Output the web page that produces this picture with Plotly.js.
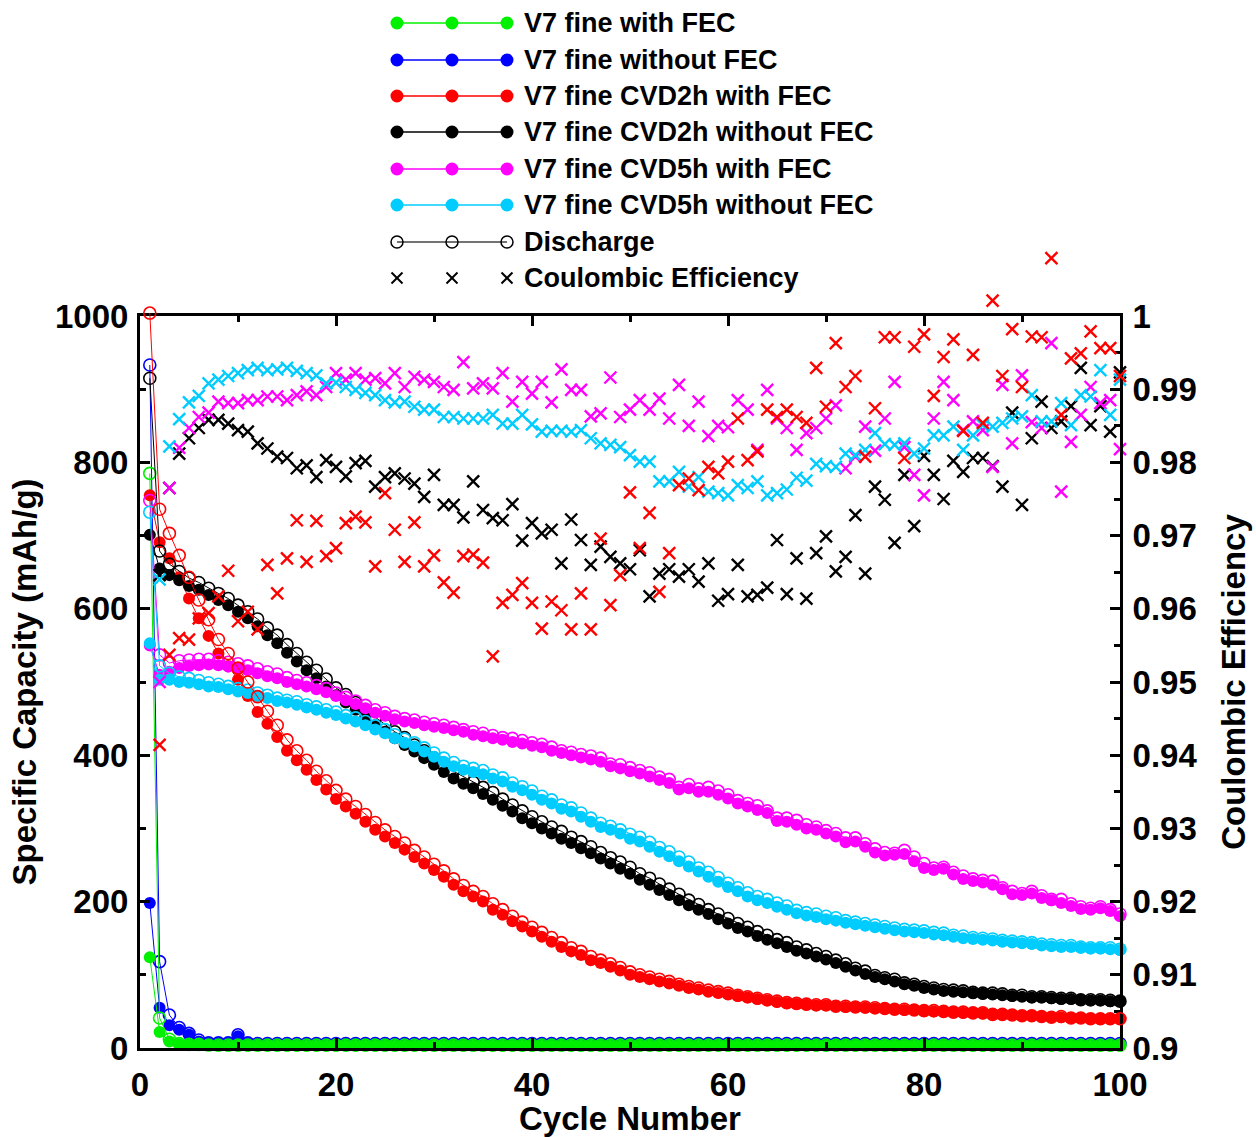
<!DOCTYPE html>
<html>
<head>
<meta charset="utf-8">
<script src="https://cdn.plot.ly/plotly-3.0.1.min.js"></script>
<style>
html,body{margin:0;padding:0;background:#fff;}
#chart{width:1256px;height:1137px;}
</style>
</head>
<body>
<div id="chart"></div>
<script>
// ---------------- DATA ----------------
const cycles = [1,2,3,4,5,6,7,8,9,10,11,12,13,14,15,16,17,18,19,20,21,22,23,24,25,26,27,28,29,30,31,32,33,34,35,36,37,38,39,40,41,42,43,44,45,46,47,48,49,50,51,52,53,54,55,56,57,58,59,60,61,62,63,64,65,66,67,68,69,70,71,72,73,74,75,76,77,78,79,80,81,82,83,84,85,86,87,88,89,90,91,92,93,94,95,96,97,98,99,100];

const seriesNames = ["V7 fine with FEC","V7 fine without FEC","V7 fine CVD2h with FEC","V7 fine CVD2h without FEC","V7 fine CVD5h with FEC","V7 fine CVD5h without FEC"];
const seriesColors = ["#00F000","#0000FF","#FF0000","#000000","#FF00FF","#00CCFF"];

// charge (filled) capacities, mAh/g
const greenCharge = [124,22,9,5,4,4,4,3,3,3,3,3,3,3,3,3,3,3,3,3,3,3,3,3,3,3,3,3,3,3,3,3,3,3,3,3,3,3,3,3,3,3,3,3,3,3,3,3,3,3,3,3,3,3,3,3,3,3,3,3,3,3,3,3,3,3,3,3,3,3,3,3,3,3,3,3,3,3,3,3,3,3,3,3,3,3,3,3,3,3,3,3,3,3,3,3,3,3,3,3];
const blueCharge = [198,55,31,25,18,9,6,6,6,16,6,6,5,5,5,5,5,5,5,5,5,5,5,5,5,5,5,5,5,5,5,5,5,5,5,5,5,5,5,5,5,5,5,5,5,5,5,5,5,5,5,5,5,5,5,5,5,5,5,5,5,5,5,5,5,5,5,5,5,5,5,5,5,5,5,5,5,5,5,5,5,5,5,5,5,5,5,5,5,5,5,5,5,5,5,5,5,5,5,5];
const redCharge = [755,691,669,643,614,587,563,539,522,503,481,459,443,425,406,393,380,366,353,340,330,320,309,298,289,280,271,261,252,243,234,223,214,207,200,189,182,173,166,159,152,145,138,132,127,120,116,111,106,100,97,94,91,88,85,82,80,77,75,73,71,69,67,65,63,61,60,59,58,58,57,56,56,55,54,54,53,52,52,51,50,50,49,48,48,47,46,46,45,44,44,43,42,42,41,41,40,40,40,40];
const blackCharge = [701,655,646,639,631,626,619,612,605,596,587,576,564,553,540,528,516,505,494,482,472,462,453,441,432,423,414,405,396,387,377,368,361,355,347,339,331,323,314,307,300,293,286,280,273,266,259,252,245,238,230,223,216,209,202,195,189,183,176,170,164,159,153,148,143,138,133,129,125,121,116,111,106,101,97,94,91,87,85,82,80,78,77,76,75,74,73,72,71,70,69,69,68,67,67,66,65,65,64,64];
const magentaCharge = [550,510,514,519,522,523,524,523,521,519,516,512,508,505,500,497,494,490,486,481,475,470,464,458,454,449,446,444,441,439,437,434,432,428,426,423,421,418,416,413,411,406,403,400,397,394,391,385,382,378,375,371,366,362,353,355,350,350,346,341,334,330,325,321,310,309,305,300,298,293,289,281,282,275,267,263,264,265,255,246,243,245,237,231,228,226,223,217,210,209,211,205,202,198,194,190,189,191,187,180];
const cyanCharge = [553,503,503,500,499,497,494,493,490,487,485,481,478,474,472,469,465,462,458,455,450,446,441,435,430,423,417,412,405,398,391,385,380,377,374,368,364,357,352,346,339,334,327,323,316,309,302,298,293,286,282,275,268,262,255,248,241,234,227,220,214,207,202,198,193,189,184,181,179,176,174,171,169,167,165,163,161,159,158,157,155,154,152,150,149,148,147,145,144,143,142,140,139,138,138,137,136,136,135,134];

// discharge (open) capacities, mAh/g
const greenDischarge = [785,41,12,6,5,5,4,4,4,4,4,4,4,4,4,4,4,4,4,4,4,4,4,4,4,4,4,4,4,4,4,4,4,4,4,4,4,4,4,4,4,4,4,4,4,4,4,4,4,4,4,4,4,4,4,4,4,4,4,4,4,4,4,4,4,4,4,4,4,4,4,4,4,4,4,4,4,4,4,4,4,4,4,4,4,4,4,4,4,4,4,4,4,4,4,4,4,4,4,4];
const blueDischarge = [933,118,45,28,20,11,7,7,7,18,7,6,6,6,6,6,6,6,6,6,6,6,6,6,6,6,6,6,6,6,6,6,6,6,6,6,6,6,6,6,6,6,6,6,6,6,6,6,6,6,6,6,6,6,6,6,6,6,6,6,6,6,6,6,6,6,6,6,6,6,6,6,6,6,6,6,6,6,6,6,6,6,6,6,6,6,6,6,6,6,6,6,6,6,6,6,6,6,6,6];
const redDischarge = [1004,736,703,673,643,612,585,558,539,519,500,480,460,441,421,406,393,378,365,352,340,330,319,308,298,289,280,270,261,251,242,231,222,214,207,197,189,180,172,165,158,151,144,137,132,125,120,115,110,104,100,97,94,91,87,84,82,79,77,75,72,70,68,66,64,62,61,60,59,59,57,57,56,56,55,54,53,53,52,51,51,50,49,49,48,48,46,46,45,44,44,43,42,43,41,41,40,40,40,40];
const blackDischarge = [915,679,661,651,642,636,628,621,614,605,596,586,574,564,551,539,527,516,504,492,483,472,462,452,442,432,424,414,406,396,387,378,371,363,356,349,340,332,324,316,309,302,296,288,282,275,267,260,254,247,238,232,224,217,210,202,196,189,183,177,170,165,159,154,148,144,138,134,129,125,120,115,109,105,99,96,94,89,87,84,82,80,79,78,76,75,75,74,72,72,70,70,69,68,68,66,66,66,65,64];
const magentaDischarge = [748,537,526,529,530,531,531,529,527,525,522,518,514,511,506,502,499,495,491,485,479,474,468,462,458,453,450,448,445,443,441,438,435,432,430,427,424,423,420,417,415,411,406,404,401,399,396,388,387,383,379,376,370,367,356,360,354,356,351,346,338,334,331,324,314,314,311,305,302,297,293,287,287,279,272,267,266,270,261,252,246,247,240,235,231,229,228,219,214,211,214,208,203,203,197,193,191,193,189,183];
const cyanDischarge = [732,522,512,507,505,502,499,497,494,491,489,485,482,478,475,473,469,466,462,459,454,451,446,440,435,428,422,417,410,403,396,390,385,382,379,373,369,362,357,351,344,339,332,328,321,314,307,303,298,292,288,281,274,268,261,254,246,240,233,225,219,212,207,203,198,194,188,185,183,180,178,174,172,170,168,166,164,162,161,160,158,157,154,153,151,150,149,147,146,145,144,142,141,140,140,138,137,137,137,135];

// Coulombic efficiency (right axis)
const redCE = [null,0.9414,0.9537,0.956,0.9558,0.9587,0.9594,0.9617,0.9652,0.9583,0.9596,0.9572,0.966,0.9621,0.9669,0.9721,0.9664,0.972,0.9672,0.9683,0.9717,0.9726,0.9718,0.9658,0.9758,0.9708,0.9664,0.9718,0.9658,0.9673,0.9636,0.9622,0.9672,0.9674,0.9663,0.9535,0.9608,0.9619,0.9635,0.9608,0.9573,0.961,0.9598,0.9572,0.9621,0.9572,0.9696,0.9605,0.9646,0.9759,0.9683,0.9731,0.9623,0.9676,0.9769,0.9778,0.9762,0.9794,0.9785,0.9801,0.986,0.9803,0.9815,0.9872,0.9862,0.9872,0.9862,0.9854,0.9929,0.9876,0.9963,0.9903,0.9918,0.9808,0.9874,0.9971,0.9971,0.9806,0.9958,0.9975,0.9891,0.9944,0.9968,0.9843,0.9947,0.9854,1.0021,0.9918,0.9982,0.9903,0.9972,0.9971,1.0079,0.9865,0.9942,0.9949,0.9979,0.9956,0.9956,0.9918];
const blackCE = [null,0.9646,0.9765,0.9812,0.9833,0.9847,0.9858,0.9858,0.9853,0.9844,0.9842,0.9826,0.9819,0.9808,0.9806,0.9792,0.9796,0.978,0.9803,0.9794,0.9781,0.9799,0.9802,0.9767,0.978,0.9785,0.9778,0.9771,0.9753,0.9783,0.9742,0.9742,0.9725,0.9774,0.9735,0.9724,0.9721,0.9743,0.9693,0.9717,0.9703,0.9708,0.9662,0.9722,0.9694,0.966,0.9685,0.9671,0.9662,0.9654,0.968,0.9617,0.9648,0.9654,0.9644,0.9654,0.9637,0.9662,0.9611,0.962,0.966,0.9617,0.9619,0.9629,0.9694,0.962,0.9669,0.9614,0.9676,0.9699,0.9651,0.9671,0.9728,0.9648,0.9767,0.9749,0.969,0.9783,0.9713,0.9809,0.9783,0.975,0.9802,0.9787,0.9806,0.9806,0.9795,0.9767,0.9868,0.9742,0.9833,0.9883,0.9847,0.9856,0.9877,0.9929,0.9851,0.9877,0.9842,0.9923];
const magentaCE = [null,0.95,0.9765,0.982,0.9847,0.9862,0.9868,0.9883,0.9881,0.9881,0.9885,0.9885,0.989,0.989,0.9885,0.9892,0.9897,0.9892,0.9903,0.9922,0.9913,0.9922,0.9913,0.9915,0.9908,0.9922,0.9903,0.9917,0.9913,0.991,0.9903,0.9899,0.9937,0.9901,0.9908,0.9901,0.9922,0.9883,0.991,0.9894,0.991,0.9882,0.9927,0.9899,0.9899,0.9863,0.9867,0.9916,0.9862,0.9872,0.9885,0.9872,0.9887,0.986,0.9906,0.985,0.9883,0.9836,0.985,0.9848,0.9885,0.9872,0.9817,0.9899,0.986,0.9847,0.9817,0.984,0.9847,0.986,0.9878,0.9792,0.9808,0.9849,0.9816,0.986,0.991,0.9821,0.9783,0.9755,0.986,0.991,0.9885,0.9844,0.9856,0.9844,0.9794,0.9906,0.9826,0.9919,0.9855,0.9847,0.9963,0.976,0.9828,0.9865,0.9903,0.9881,0.9885,0.9818];
const cyanCE = [null,0.964,0.9822,0.9859,0.9882,0.9891,0.9908,0.9913,0.9918,0.9922,0.9926,0.9929,0.9926,0.9927,0.9929,0.9925,0.9922,0.9919,0.9908,0.9909,0.9903,0.9899,0.9895,0.9892,0.9885,0.9882,0.9883,0.9876,0.9872,0.9872,0.9862,0.9862,0.986,0.986,0.986,0.9865,0.9853,0.9853,0.9865,0.9852,0.9842,0.9843,0.9843,0.9842,0.9844,0.9833,0.9826,0.9824,0.9821,0.981,0.9801,0.9801,0.9774,0.9774,0.9787,0.9767,0.978,0.976,0.9758,0.9755,0.9769,0.9765,0.9774,0.9755,0.9758,0.9763,0.9779,0.9775,0.9798,0.9795,0.9794,0.9812,0.981,0.9817,0.984,0.9825,0.9824,0.9826,0.9812,0.9819,0.9837,0.9837,0.9849,0.9817,0.9837,0.9851,0.9849,0.9854,0.986,0.9863,0.9892,0.9856,0.9856,0.9881,0.9851,0.9892,0.989,0.9926,0.9865,0.9913];

const legendLabels = ["V7 fine with FEC","V7 fine without FEC","V7 fine CVD2h with FEC","V7 fine CVD2h without FEC","V7 fine CVD5h with FEC","V7 fine CVD5h without FEC","Discharge","Coulombic Efficiency"];

// axis ranges
const capRange = [0, 1000];
const ceRange = [0.9, 1.0];

// ---------------- GEOMETRY / STYLE ----------------
const FONT = "Liberation Sans, Arial, Helvetica, sans-serif";
const W = 1256, H = 1137;
const L = 140, R = 1120, T = 316, B = 1048;   // visible axis box (px)
const PT = 240;                                // top of the (taller) plotting paper, so out-of-range points still show
const dFrac = (B - T) / (B - PT);              // domain fraction used by the visible axes
// hidden full-height axes that share the same value→pixel scale as the visible ones
const capRangeTall = [capRange[0], capRange[0] + (capRange[1] - capRange[0]) / dFrac];
const ceRangeTall = [ceRange[0], ceRange[0] + (ceRange[1] - ceRange[0]) / dFrac];

const MS = 12;
const traces = [];
function capTrace(arr, i, open, axis) {
  const c = seriesColors[i];
  return {
    x: cycles, y: arr, type: 'scatter', mode: 'lines+markers', yaxis: axis,
    name: seriesNames[i] + (open ? ' discharge' : ''),
    line: {color: c, width: 1},
    marker: open ? {symbol: 'circle-open', size: MS, color: c, line: {width: 1.6, color: c}}
                 : {symbol: 'circle', size: MS, color: c, line: {width: 0}},
    cliponaxis: false, showlegend: false
  };
}
// draw order: blue below green at the bottom, as in the original
const order = [1, 0, 2, 3, 4, 5];
const charges = [greenCharge, blueCharge, redCharge, blackCharge, magentaCharge, cyanCharge];
const discharges = [greenDischarge, blueDischarge, redDischarge, blackDischarge, magentaDischarge, cyanDischarge];
order.forEach(i => {
  traces.push(capTrace(discharges[i], i, true, i === 2 ? 'y4' : 'y'));
  traces.push(capTrace(charges[i], i, false, 'y'));
});
const ceSets = [[3, blackCE, 'y2'], [4, magentaCE, 'y2'], [5, cyanCE, 'y2'], [2, redCE, 'y3']];
ceSets.forEach(([ci, arr, ax]) => {
  traces.push({
    x: cycles, y: arr, type: 'scatter', mode: 'markers', yaxis: ax, name: seriesNames[ci] + ' CE',
    marker: {symbol: 'x-thin-open', size: 12, color: seriesColors[ci], line: {width: 2.4, color: seriesColors[ci]}},
    cliponaxis: false, showlegend: false
  });
});

// pixel → paper helpers
const px = v => (v - L) / (R - L);
const py = v => (B - v) / (B - PT);

// custom legend (three markers per row, as in the original)
const shapes = [];
const annotations = [];
const rowY = [23, 60, 96, 132, 169, 205, 242, 278];
const mkX = [397, 452, 507];
const legendColors = seriesColors.concat(["#000000", "#000000"]);
rowY.forEach((yy, r) => {
  const col = legendColors[r];
  if (r < 7) {
    shapes.push({type: 'line', xref: 'paper', yref: 'paper', x0: px(mkX[0]), x1: px(mkX[2]), y0: py(yy), y1: py(yy),
      line: {color: r === 6 ? '#444444' : col, width: 1.5}});
  }
  mkX.forEach(xx => {
    if (r < 6) {
      shapes.push({type: 'circle', xref: 'paper', yref: 'paper', xsizemode: 'pixel', ysizemode: 'pixel',
        xanchor: px(xx), yanchor: py(yy), x0: -6.5, x1: 6.5, y0: -6.5, y1: 6.5,
        fillcolor: col, line: {color: col, width: 0}});
    } else if (r === 6) {
      shapes.push({type: 'circle', xref: 'paper', yref: 'paper', xsizemode: 'pixel', ysizemode: 'pixel',
        xanchor: px(xx), yanchor: py(yy), x0: -6, x1: 6, y0: -6, y1: 6,
        fillcolor: 'rgba(0,0,0,0)', line: {color: '#000', width: 1.5}});
    } else {
      shapes.push({type: 'line', xref: 'paper', yref: 'paper', xsizemode: 'pixel', ysizemode: 'pixel',
        xanchor: px(xx), yanchor: py(yy), x0: -5.5, x1: 5.5, y0: -5.5, y1: 5.5, line: {color: '#000', width: 2}});
      shapes.push({type: 'line', xref: 'paper', yref: 'paper', xsizemode: 'pixel', ysizemode: 'pixel',
        xanchor: px(xx), yanchor: py(yy), x0: -5.5, x1: 5.5, y0: 5.5, y1: -5.5, line: {color: '#000', width: 2}});
    }
  });
  annotations.push({xref: 'paper', yref: 'paper', x: px(522), y: py(yy), xanchor: 'left', yanchor: 'middle',
    text: legendLabels[r], showarrow: false, font: {family: FONT, size: 27, weight: 'bold', color: '#000'}});
});

const tickFont = {family: FONT, size: 33, weight: 'bold', color: '#000'};
const titleFont = {family: FONT, size: 33, weight: 'bold', color: '#000'};
const tickBase = {ticks: 'inside', ticklen: 10, tickwidth: 3, tickcolor: '#000',
  showline: true, linewidth: 3, linecolor: '#000', showgrid: false, zeroline: false, tickfont: tickFont};
const minorBase = {ticks: 'inside', ticklen: 6, tickwidth: 3, tickcolor: '#000', showgrid: false};

const layout = {
  width: W, height: H,
  margin: {l: L, r: W - R, t: PT, b: H - B, pad: 0},
  paper_bgcolor: '#fff', plot_bgcolor: 'rgba(0,0,0,0)',
  showlegend: false,
  xaxis: Object.assign({}, tickBase, {
    range: [0, 100], tickmode: 'linear', tick0: 0, dtick: 20,
    minor: Object.assign({}, minorBase, {dtick: 10, tick0: 0}),
    mirror: 'ticks', anchor: 'y', ticklabelstandoff: 5,
    title: {text: 'Cycle Number', font: titleFont, standoff: 4}
  }),
  yaxis: Object.assign({}, tickBase, {
    domain: [0, dFrac], range: capRange, tickmode: 'linear', tick0: 0, dtick: 200,
    minor: Object.assign({}, minorBase, {dtick: 100, tick0: 0}),
    mirror: false, anchor: 'x', ticklabelstandoff: 2,
    title: {text: 'Specific Capacity (mAh/g)', font: titleFont, standoff: 9}
  }),
  yaxis2: Object.assign({}, tickBase, {
    overlaying: 'y', side: 'right', anchor: 'x',
    range: ceRange, tickmode: 'linear', tick0: 0.9, dtick: 0.01,
    minor: Object.assign({}, minorBase, {dtick: 0.005, tick0: 0.9}),
    ticklabelstandoff: 3,
    title: {text: 'Coulombic Efficiency', font: titleFont, standoff: 26}
  }),
  // hidden, taller twins (same scale) used only so points just above the box are not dropped
  yaxis3: {domain: [0, 1], range: ceRangeTall, visible: false, anchor: 'x', showgrid: false, zeroline: false},
  yaxis4: {domain: [0, 1], range: capRangeTall, visible: false, anchor: 'x', showgrid: false, zeroline: false},
  shapes: shapes,
  annotations: annotations
};

Plotly.newPlot('chart', traces, layout, {displayModeBar: false, staticPlot: true});
</script>
</body>
</html>
